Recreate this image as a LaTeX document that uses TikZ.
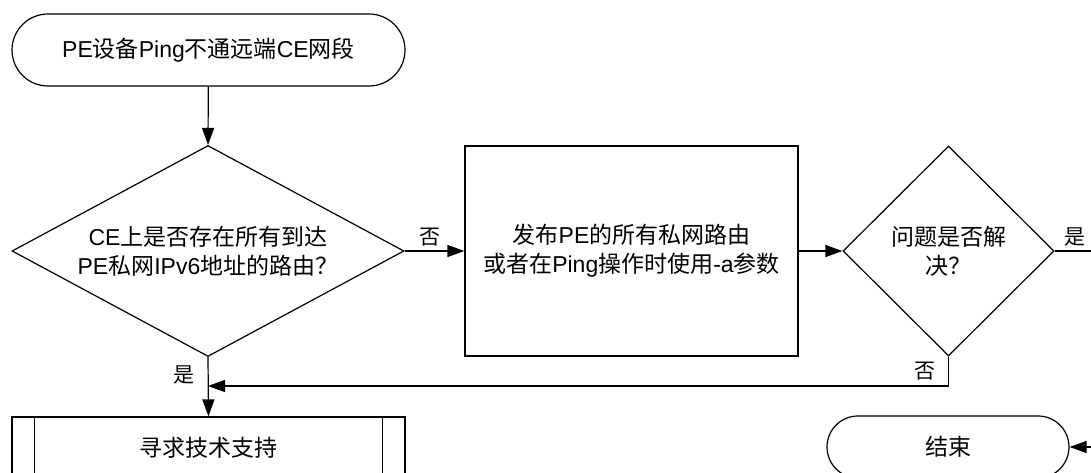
\documentclass[tikz,border=0pt]{standalone}
\usepackage{fontspec}
\setmainfont{Liberation Sans}
\newfontfamily\cjk{Noto Sans CJK SC}
\newcommand\zh[1]{{\cjk #1}}
\usetikzlibrary{shapes.geometric,arrows.meta}
\begin{document}
\begin{tikzpicture}[x=1pt,y=-1pt,line width=1.2pt,
  every node/.style={font=\fontsize{23}{29}\selectfont,inner sep=0pt,align=center},
  term/.style={draw,rounded corners=36pt,minimum width=393pt,minimum height=72pt},
  endterm/.style={draw,rounded corners=31pt,minimum width=242pt,minimum height=62pt},
  decide/.style={draw,diamond},
  procbox/.style={draw,minimum width=333pt,minimum height=210pt},
  subbox/.style={draw,minimum width=393pt,minimum height=62pt},
  lbl/.style={font=\fontsize{21}{25}\selectfont},
  arr/.style={-{Triangle[length=17pt,width=12pt]}}]
\useasboundingbox (0,0) rectangle (1091,473);
\clip (0,0) rectangle (1091,473);

\node[term] (start) at (208.5,50) {PE\zh{设备}Ping\zh{不通远端}CE\zh{网段}};
\node[decide,aspect=1.858,minimum width=392pt,minimum height=211pt] (d1) at (208,251)
  {CE\zh{上是否存在所有到达}\\PE\zh{私网}IPv6\zh{地址的路由？}};
\node[procbox] (proc) at (631.5,251)
  {\zh{发布}PE\zh{的所有私网路由}\\\zh{或者在}Ping\zh{操作时使用}-a\zh{参数}};
\node[decide,aspect=1,minimum width=211pt,minimum height=210pt] (d2) at (948.5,251)
  {\zh{问题是否解}\\\zh{决？}};
\node[subbox] (sub) at (208.5,448) {\zh{寻求技术支持}};
\draw ([xshift=23pt]sub.north west) -- ([xshift=23pt]sub.south west);
\draw ([xshift=-23pt]sub.north east) -- ([xshift=-23pt]sub.south east);
\node[endterm] (fin) at (948,447) {\zh{结束}};

\coordinate (j) at (208,386);
\coordinate (fb) at (948.5,386);
\coordinate (r1) at (1120,251);
\coordinate (r2) at (1120,447);

\draw[arr] (start) -- (d1.north);
\draw[arr] (d1.east) -- (proc.west);
\draw[arr] (proc.east) -- (d2.west);
\draw[arr] (d1.south) -- (sub.north);
\draw[arr] (d2.south) -- (fb) -- (j);
\draw[arr] (d2.east) -- (r1) -- (r2) -- (fin.east);

\node[lbl] at (430,237) {\zh{否}};
\node[lbl] at (184,375) {\zh{是}};
\node[lbl] at (925,371) {\zh{否}};
\node[lbl] at (1075,237) {\zh{是}};
\end{tikzpicture}
\end{document}
